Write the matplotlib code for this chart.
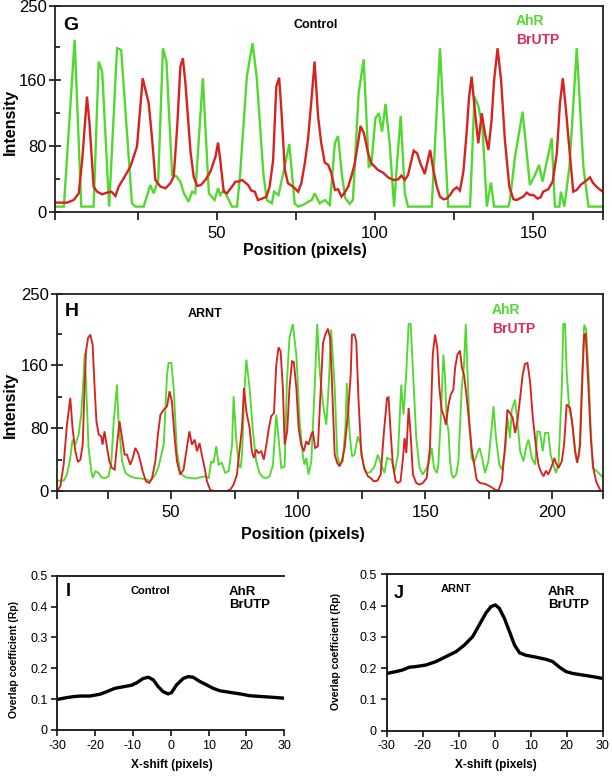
import matplotlib
matplotlib.use("Agg")
import matplotlib.pyplot as plt

plt.rcParams['font.family'] = ['Liberation Sans', 'DejaVu Sans']

# ---------------- data ----------------
# Panel G (Control): intensity profiles (position in pixels, intensity)
g_ahr_x = [-1.0, 1.7, 5.1, 7.2, 11.1, 12.7, 13.8, 16.0, 18.5, 19.8, 23.2, 24.3, 26.9, 29.0, 30.1, 31.5, 33.0, 34.1,
           35.9, 37.1, 38.5, 39.6, 41.1, 42.2, 43.2, 45.6, 47.5, 49.3, 50.4, 51.1, 52.2, 53.8, 54.8, 56.4, 57.4, 59.5,
           61.3, 62.6, 64.7, 65.8, 67.4, 68.1, 69.5, 71.0, 72.9, 74.6, 75.7, 77.3, 78.9, 80.0, 80.9, 82.5, 84.1, 85.7,
           87.3, 88.3, 89.6, 90.6, 92.0, 93.0, 94.8, 96.4, 98.0, 98.8, 100.1, 101.2, 102.2, 103.3, 104.6, 106.0, 107.0,
           108.1, 109.4, 110.4, 117.9, 120.5, 123.1, 130.0, 131.4, 132.6, 133.9, 135.3, 136.6, 137.6, 142.1, 142.6,
           144.2, 146.6, 148.9, 150.5, 151.8, 152.9, 155.8, 156.8, 158.2, 158.7, 159.8, 161.4, 163.7, 165.8, 167.4, 172.0]
g_ahr_y = [6.9, 6.9, 209, 6.9, 6.9, 182.6, 170.5, 6.9, 198.8, 196.7, 10.9, 6.9, 6.9, 33.1, 23.0, 39.2, 198.8, 182.6,
           45.2, 44.0, 37.2, 23.0, 12.9, 25.0, 23.0, 162.4, 23.0, 14.9, 29.1, 21.0, 27.1, 14.9, 6.9, 6.9, 47.3, 164.4,
           204.8, 164.4, 47.3, 14.9, 10.9, 25, 21, 47.3, 82.8, 10.9, 6.9, 8.9, 12.9, 14.9, 23, 10.9, 14.9, 8.9,
           83.6, 92.5, 43.2, 17, 10.1, 14.9, 144.2, 185.4, 55.3, 57.4, 113.9, 120, 97.8, 131.3, 83.6, 6.9, 63.4,
           116.8, 23, 6.9, 6.9, 198.8, 6.9, 6.9, 140.2, 128.9, 103.8, 6.9, 36, 6.9, 6.9, 14.9,
           67.5, 122, 33.1, 45.2, 57.4, 37.2, 89.7, 6.9, 6.9, 25, 6.9, 55.3, 198.8, 55.3, 6.9, 6.9]

g_brutp_x = [-1.0, 2.7, 4.8, 6.4, 7.5, 9.0, 9.8, 11.1, 12.2, 13.8, 15.3, 16.7, 18.0, 19.0, 20.6, 22.7, 24.8, 26.6,
             28.5, 29.6, 30.6, 32.2, 33.8, 35.3, 36.4, 37.5, 38.5, 39.3, 40.1, 41.7, 42.7, 43.8, 45.0, 46.4, 48.0,
             49.6, 50.4, 51.1, 52.2, 53.2, 54.8, 55.9, 56.9, 58.0, 59.9, 60.9, 62.0, 63.0, 64.6, 65.7, 66.7, 67.8,
             68.8, 69.7, 70.4, 71.5, 72.5, 74.1, 75.7, 76.7, 77.8, 78.8, 79.9, 80.9, 82.0, 83.0, 84.1, 85.2, 86.2,
             87.3, 88.3, 89.4, 90.4, 91.5, 92.5, 93.6, 94.6, 95.4, 96.5, 97.8, 98.8, 99.9, 100.9, 102.5, 104.1, 105.7,
             107.3, 108.3, 109.4, 110.4, 111.5, 112.2, 113.3, 114.3, 115.7, 117.4, 118.4, 119.5, 120.5, 121.6, 122.6,
             123.7, 124.7, 125.8, 126.8, 127.9, 128.9, 129.7, 130.5, 131.6, 132.6, 133.7, 134.7, 135.8, 136.8, 137.6,
             138.7, 139.8, 141.0, 142.4, 143.7, 144.7, 145.8, 146.8, 147.9, 148.9, 150.0, 151.3, 152.3, 153.1, 154.7,
             156.1, 157.4, 158.4, 159.3, 160.3, 161.4, 162.6, 163.7, 164.9, 166.3, 167.9, 168.9, 170.5, 171.9]
g_brutp_y = [11.7, 11.7, 14.9, 23, 63.4, 140.2, 107.9, 31.1, 25, 21.8, 23.8, 25, 19.8, 31.1, 41.2, 55.3, 79.6, 162.4,
             132.1, 87.7, 39.2, 31.1, 29.1, 35.1, 43.2, 103.8, 176.5, 186.6, 156.3, 73.5, 43.2, 31.9, 33.1, 39.2, 49.3,
             67.5, 84.4, 63.4, 25, 23, 31.1, 37.2, 37.2, 39.2, 33.1, 26.3, 25, 14.9, 17, 19, 31.1, 63.4,
             152.3, 163.2, 124, 51.3, 35.1, 31.1, 25, 35.1, 59.4, 87.7, 136.1, 182.6, 116, 83.6, 60.2, 57.4, 47.3,
             27.1, 27.9, 19, 23.8, 31.1, 43.2, 59.4, 83.6, 104.6, 95.7, 71.5, 59.4, 55.3, 51.3, 48.1, 42.4, 39.2,
             40, 44.4, 39.2, 45.2, 63.4, 74.7, 71.5, 59.4, 46.5, 75.5, 51.3, 31.1, 19, 15.8, 16.6,
             21, 27.1, 30.3, 26.3, 49.3, 95.7, 140.2, 164.4, 120, 83.6, 120, 95.7, 75.5, 111.9, 160.4,
             198.8, 160.4, 87.7, 31.1, 15.8, 14.9, 17, 19, 23.8, 21, 21, 16.6, 18.2, 25, 27.9,
             37.2, 71.5, 132.1, 162.4, 124, 75.5, 25, 27.1, 33.1, 37.2, 42.4, 35.1, 29.1, 25]

# Panel H (ARNT)
h_ahr_x = [5.2, 7.7, 9.0, 10.3, 11.2, 12.3, 13.6, 14.6, 15.6, 16.0, 16.6, 17.5, 18.6, 19.2, 20.2, 21.5, 22.5, 24.1,
           25.4, 26.5, 27.4, 28.7, 29.3, 30.7, 32.0, 33.9, 35.9, 38.5, 40.5, 41.8, 43.8, 45.1, 47.1, 48.4, 49.0, 50.1,
           51.0, 52.3, 53.6, 55.6, 57.6, 59.5, 61.5, 63.5, 64.8, 65.8, 66.7, 67.8, 68.7, 70.0, 71.3, 72.7, 74.0, 74.6,
           75.5, 76.6, 77.4, 78.0, 78.7, 79.6, 80.9, 82.2, 83.5, 84.8, 86.1, 87.5, 88.8, 90.1, 91.4, 92.3, 93.4, 94.7,
           95.6, 96.6, 97.9, 99.3, 100.6, 101.9, 102.5, 103.2, 104.1, 105.2, 106.5, 107.5, 108.5, 109.8, 111.1, 112.0,
           113.0, 114.4, 115.4, 116.3, 117.6, 118.6, 119.2, 120.3, 121.2, 122.2, 123.5, 124.6, 125.9, 127.2, 128.5,
           130.1, 131.4, 132.7, 134.0, 135.0, 136.7, 138.0, 139.3, 140.6, 141.5, 142.6, 143.5, 144.3, 145.2, 146.5,
           147.8, 149.1, 151.3, 152.6, 153.5, 154.6, 155.2, 156.1, 157.2, 157.8, 158.5, 159.2, 159.8, 160.5, 161.1,
           162.2, 163.1, 164.4, 165.3, 166.0, 166.6, 167.4, 168.3, 169.3, 170.3, 171.4, 172.3, 173.6, 174.9, 176.2,
           176.9, 177.9, 179.2, 180.2, 181.5, 182.4, 183.4, 184.1, 185.4, 186.3, 187.4, 188.7, 190.0, 190.7, 192.0,
           193.3, 194.2, 195.2, 196.3, 197.2, 198.5, 199.4, 200.5, 201.5, 202.5, 203.8, 204.4, 205.1, 205.7, 206.8,
           207.7, 209.0, 209.7, 210.7, 211.6, 212.6, 213.4, 214.3, 215.2, 216.0, 217.6, 218.9, 219.9]
h_ahr_y = [13.5, 13.5, 21.2, 42.3, 65.6, 59.2, 71.9, 97.3, 148, 175.5, 131.1, 55, 25.4, 16.9, 25.4, 23.3, 17.8, 16.9,
           19, 38.1, 88.8, 135.4, 88.8, 38.1, 23.3, 19, 16.9, 16.1, 14.8, 12.7, 21.2, 31.7, 59.2, 148, 162.9, 162.9,
           131.1, 50.8, 23.3, 17.8, 16.9, 16.1, 17.8, 19, 16.9, 38.1, 36, 57.1, 33.8, 36, 23.3, 26.2, 59.2, 120.6,
           71.9, 33.8, 29.6, 50.8, 118.4, 167.1, 131.1, 76.1, 38.1, 23.3, 17.8, 16.9, 19, 33.8, 97.3, 67.7, 29.6, 31.7,
           139.6, 194.6, 212.3, 173.4, 88.8, 44.4, 33.8, 42.3, 21.2, 38.1, 131.1, 212.3, 152.3, 110, 84.6, 131.1,
           205.2, 131.1, 46.5, 33.8, 38.1, 80.4, 137.5, 71.9, 44.4, 46.5, 69.8, 59.2, 29.6, 23.3, 24.5,
           31.7, 46.5, 33.8, 23.3, 42.3, 40.2, 25.4, 46.5, 135.4, 97.3, 152.3, 212.3, 212.3, 152.3, 67.7,
           29.6, 21.2, 33.8, 55, 29.6, 23.3, 33.8, 88.8, 173.4, 148, 88.8, 76.1, 38.1, 21.2, 16.9,
           21.2, 38.1, 131.1, 160.7, 212.3, 156.5, 88.8, 42.3, 36, 46.5, 55, 44.4, 23.3, 38.1, 80.4,
           107.9, 67.7, 33.8, 27.5, 50.8, 93.1, 67.7, 103.6, 116.3, 88.8, 50.8, 38.1, 59.2, 65.6, 42.3,
           33.8, 76.1, 75.3, 50.8, 74, 74, 46.5, 33.8, 23.3, 33.8, 131.1, 212.3, 212.3, 152.3, 101.5,
           93.1, 55, 38.1, 46.5, 131.1, 211.5, 205.2, 152.3, 80.4, 29.6, 25.4, 21.2, 18]

h_brutp_x = [5.2, 6.4, 7.7, 9.0, 10.3, 11.2, 12.3, 13.3, 14.3, 15.2, 16.0, 16.5, 17.3, 18.2, 19.1, 19.9, 20.6, 21.5,
             22.5, 23.0, 23.8, 24.8, 25.7, 26.7, 27.8, 28.7, 29.7, 30.7, 31.7, 32.6, 33.9, 34.9, 35.9, 37.0, 37.9,
             38.8, 40.1, 41.4, 42.5, 43.8, 44.8, 45.8, 47.1, 48.4, 49.4, 50.3, 51.4, 52.3, 53.6, 54.9, 56.0, 57.2,
             58.2, 59.3, 60.2, 61.2, 62.2, 63.2, 64.1, 65.4, 67.4, 71.3, 73.3, 74.6, 75.9, 76.9, 77.9, 78.7, 79.6,
             80.9, 81.8, 82.6, 83.5, 84.4, 85.5, 86.5, 87.5, 88.5, 89.4, 90.5, 91.4, 92.3, 93.1, 94.0, 94.7, 95.7,
             96.6, 97.6, 98.3, 99.3, 100.2, 101.2, 102.2, 103.2, 104.1, 105.2, 105.8, 106.7, 107.8, 108.8, 109.8,
             110.7, 111.7, 112.6, 113.4, 114.4, 115.4, 116.3, 117.2, 118.3, 119.6, 120.7, 121.2, 122.2, 122.9, 123.8,
             124.9, 126.2, 127.5, 128.5, 129.8, 131.2, 132.5, 133.8, 135.0, 135.6, 136.4, 137.3, 138.4, 139.3, 140.3,
             141.3, 141.9, 142.6, 143.5, 144.3, 145.2, 146.5, 147.8, 149.1, 150.6, 151.9, 153.0, 153.9, 154.8, 155.6,
             156.5, 157.4, 158.2, 159.2, 160.1, 161.1, 161.8, 162.7, 163.7, 164.5, 165.3, 166.4, 167.4, 168.3, 169.0,
             170.3, 171.6, 173.6, 175.6, 177.5, 178.8, 180.2, 181.5, 182.4, 183.4, 184.5, 185.4, 186.3, 187.4, 188.4,
             189.3, 190.3, 191.3, 192.4, 193.7, 194.6, 195.5, 196.6, 197.6, 198.5, 199.8, 200.9, 201.5, 202.5, 203.8,
             204.7, 205.7, 207.1, 208.1, 209.0, 209.9, 211.0, 212.0, 212.6, 213.2, 214.3, 215.2, 216.2, 217.3, 218.2,
             219.1]
h_brutp_y = [0.8, 6.3, 33.8, 84.6, 118.4, 80.4, 50.8, 37.2, 40.2, 59.2, 139.6, 177.7, 194.6, 198.8, 186.1, 131.1, 88.8,
             71.9, 69.8, 59.2, 76.1, 55, 38.1, 29.6, 27.5, 59.2, 88.8, 67.7, 46.5, 46.5, 33.8, 42.3, 55, 48.6, 38.1,
             25.4, 12.7, 10.6, 16.9, 38.1, 71.9, 97.3, 103.6, 107.9, 126.9, 114.2, 67.7, 38.1, 21.2, 27.5, 50.8, 76.1,
             59.2, 65.6, 50.8, 61.3, 44.4, 29.6, 12.7, 1.7, 0, 0, 2.1, 8.5, 21.2, 50.8, 80.4, 131.1, 101.5,
             80.4, 50.8, 42.3, 52.9, 48.6, 50.8, 40.2, 59.2, 80.4, 95.2, 99.4, 160.7, 182.7, 177.7, 131.1, 59.2, 76.1,
             131.1, 165, 164.1, 131.1, 80.4, 59.2, 50.8, 63.5, 59.2, 71.9, 76.1, 55, 57.1, 122.7, 188.2,
             198.8, 206.4, 194.6, 131.1, 46.5, 36, 31.7, 38.1, 55, 97.3, 148, 198.8, 198.8, 190.4, 114.2,
             46.5, 27.5, 19, 16.9, 12.7, 13.5, 21.2, 76.1, 118.4, 119.3, 76.1, 33.8, 12.7, 10.6, 12.7,
             42.3, 67.7, 48.6, 105.8, 71.9, 21.2, 10.6, 8.5, 10.6, 16.9, 55, 173.4, 198.8, 181.9, 131.1,
             103.6, 95.2, 84.6, 110, 122.7, 129, 156.5, 173.4, 178.5, 156.5, 148, 118.4, 84.6, 55, 40.2,
             14.8, 10.6, 9.3, 6.3, 2.1, 0.8, 12.7, 59.2, 103.6, 99.4, 93.1, 74, 88.8, 118.4, 148,
             161.6, 162.9, 139.6, 93.1, 55, 33.8, 25.4, 19, 26.2, 21.2, 31.7, 42.3, 36, 29.6, 38.1,
             59.2, 110, 105.8, 80.4, 50.8, 36, 59.2, 152.3, 198.8, 199.7, 131.1, 67.7, 29.6, 12.7, 6.3,
             0.8]

# Panel I (Control) and J (ARNT): overlap coefficient vs x-shift
i_shift = [-30, -27.5, -25.8, -24.0, -21.4, -18.7, -17.0, -14.8, -12.6, -10.4, -9.0, -7.3, -5.9, -4.6, -3.3, -2.0,
           -0.7, 0.2, 1.5, 3.3, 4.6, 5.9, 7.7, 9.5, 11.2, 13.0, 15.6, 18.3, 20.9, 24.5, 28.0, 30.0]
i_rp = [0.099, 0.105, 0.108, 0.110, 0.110, 0.116, 0.124, 0.135, 0.140, 0.145, 0.153, 0.167, 0.171, 0.162, 0.140,
        0.124, 0.117, 0.121, 0.146, 0.167, 0.173, 0.171, 0.157, 0.146, 0.135, 0.127, 0.122, 0.117, 0.111, 0.108,
        0.105, 0.103]
j_shift = [-30, -27.4, -25.6, -23.7, -21.9, -19.1, -16.3, -13.5, -10.7, -8.4, -6.1, -4.3, -2.4, -1.0, 0.2, 1.3, 2.7,
           4.1, 5.5, 6.9, 8.7, 11.5, 14.3, 16.1, 18.0, 19.8, 21.7, 24.4, 27.2, 30.0]
j_rp = [0.183, 0.189, 0.194, 0.203, 0.205, 0.210, 0.221, 0.237, 0.253, 0.274, 0.301, 0.338, 0.377, 0.397, 0.402,
        0.391, 0.359, 0.317, 0.274, 0.249, 0.241, 0.235, 0.228, 0.221, 0.203, 0.189, 0.183, 0.178, 0.173, 0.167]

# ---------------- styling ----------------
W, H = 612, 776
GREEN = '#52d930'
RED = '#d8221f'
TXT_RED = '#dd2b5c'
fig = plt.figure(figsize=(W / 100, H / 100), dpi=100)


def rect(l, t, r, b):
    return [l / W, 1 - b / H, (r - l) / W, (b - t) / H]


def ftext(px, py, s, **kw):
    fig.text(px / W, 1 - py / H, s, **kw)


def profile_axes(box, xlim, xticks, xlabels, ahr_x, ahr_y, br_x, br_y, lw):
    ax = fig.add_axes(rect(*box))
    ax.plot(ahr_x, ahr_y, color=GREEN, lw=lw, solid_joinstyle='miter')
    ax.plot(br_x, br_y, color=RED, lw=lw, solid_joinstyle='miter')
    ax.set_xlim(*xlim)
    ax.set_ylim(0, 250)
    ax.set_xticks(xticks)
    ax.set_xticklabels(xlabels)
    ax.set_yticks([0, 80, 160, 250])
    ax.set_yticks([40, 120, 200], minor=True)
    ax.tick_params(axis='x', direction='out', length=6, width=1.1, labelsize=12, pad=4)
    ax.tick_params(axis='y', which='major', direction='inout', length=8, width=1.1, labelsize=12, pad=2)
    ax.tick_params(axis='y', which='minor', direction='in', length=3.5, width=1.1)
    for s in ax.spines.values():
        s.set_linewidth(1.3)
        s.set_color('#222222')
    return ax


# Panel G
gx = (-1.1, 171.9)
axG = profile_axes((55, 6, 602.7, 212.3), gx,
                   [gx[0], 25, 50, 75, 100, 125, 150, gx[1]],
                   ['', '', '50', '', '100', '', '150', ''],
                   g_ahr_x, g_ahr_y, g_brutp_x, g_brutp_y, 1.7)
# Panel H
hx = (5.2, 219.9)
axH = profile_axes((57.3, 294.3, 602.7, 491.3), hx,
                   [hx[0], 25, 50, 75, 100, 125, 150, 175, 200, hx[1]],
                   ['', '', '50', '', '100', '', '150', '', '200', ''],
                   h_ahr_x, h_ahr_y, h_brutp_x, h_brutp_y, 1.35)


def rp_axes(box, x, y, right_spine):
    ax = fig.add_axes(rect(*box))
    ax.plot(x, y, color='black', lw=2.4, solid_capstyle='butt')
    ax.set_xlim(-30, 30)
    ax.set_ylim(0, 0.5)
    ax.set_xticks([-30, -20, -10, 0, 10, 20, 30])
    ax.set_xticklabels(['-30', '-20', '-10', '0', '10', '20', '30'])
    ax.set_yticks([0, 0.1, 0.2, 0.3, 0.4, 0.5])
    ax.set_yticklabels(['0', '0.1', '0.2', '0.3', '0.4', '0.5'])
    ax.tick_params(direction='out', length=4, width=1.1, labelsize=9, pad=3)
    for s in ax.spines.values():
        s.set_linewidth(1.3)
        s.set_color('#111111')
    ax.spines['right'].set_visible(right_spine)
    return ax


axI = rp_axes((57.3, 575.7, 284.3, 730), i_shift, i_rp, False)
axJ = rp_axes((386.7, 574.3, 602.7, 730.7), j_shift, j_rp, True)

# ---------------- texts ----------------
bold = dict(fontweight='bold')
# G
ftext(63, 26, 'G', fontsize=14, va='center', ha='left', **bold)
ftext(316, 25, 'Control', fontsize=9, va='center', ha='center', **bold)
ftext(516, 21, 'AhR', fontsize=10, va='center', ha='left', color=GREEN, **bold)
ftext(516, 40, 'BrUTP', fontsize=10, va='center', ha='left', color=TXT_RED, **bold)
ftext(10, 122, 'Intensity', fontsize=11.5, rotation=90, va='center', ha='center', **bold)
ftext(305, 251, 'Position (pixels)', fontsize=11.5, va='center', ha='center', **bold)
# H
ftext(65, 312, 'H', fontsize=14, va='center', ha='left', **bold)
ftext(205, 314, 'ARNT', fontsize=9, va='center', ha='center', **bold)
ftext(492, 310, 'AhR', fontsize=10, va='center', ha='left', color=GREEN, **bold)
ftext(492, 329, 'BrUTP', fontsize=10, va='center', ha='left', color=TXT_RED, **bold)
ftext(10, 405, 'Intensity', fontsize=11.5, rotation=90, va='center', ha='center', **bold)
ftext(303, 535, 'Position (pixels)', fontsize=11.5, va='center', ha='center', **bold)
# I
ftext(66, 592, 'I', fontsize=13, va='center', ha='left', **bold)
ftext(150, 591, 'Control', fontsize=8, va='center', ha='center', **bold)
ftext(229, 592, 'AhR', fontsize=9.5, va='center', ha='left', **bold)
ftext(229, 605, 'BrUTP', fontsize=9.5, va='center', ha='left', **bold)
ftext(14, 660, 'Overlap coefficient (Rp)', fontsize=7.5, rotation=90, va='center', ha='center', **bold)
ftext(172, 765, 'X-shift (pixels)', fontsize=8.5, va='center', ha='center', **bold)
# J
ftext(394, 593, 'J', fontsize=13, va='center', ha='left', **bold)
ftext(456, 589, 'ARNT', fontsize=8, va='center', ha='center', **bold)
ftext(548, 592, 'AhR', fontsize=9.5, va='center', ha='left', **bold)
ftext(548, 605, 'BrUTP', fontsize=9.5, va='center', ha='left', **bold)
ftext(336, 652, 'Overlap coefficient (Rp)', fontsize=7.5, rotation=90, va='center', ha='center', **bold)
ftext(496, 765, 'X-shift (pixels)', fontsize=8.5, va='center', ha='center', **bold)

fig.savefig('out.png', dpi=100)
